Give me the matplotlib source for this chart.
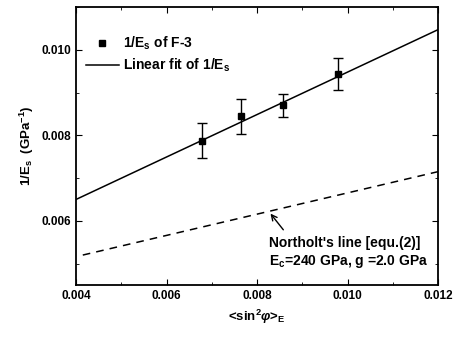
import numpy as np
import matplotlib.pyplot as plt
from matplotlib.lines import Line2D
from matplotlib.ticker import MultipleLocator, FormatStrFormatter

plt.rcParams['font.family'] = ['Liberation Sans', 'DejaVu Sans']
plt.rcParams['font.weight'] = 'bold'
plt.rcParams['mathtext.fontset'] = 'custom'
plt.rcParams['mathtext.rm'] = 'Liberation Sans:bold'
plt.rcParams['mathtext.bf'] = 'Liberation Sans:bold'
plt.rcParams['mathtext.it'] = 'Liberation Sans:bold:italic'

# Datos medidos 1/Es de F-3
sin2_x = [0.00678, 0.00765, 0.00857, 0.0098]
inv_es = [0.00787, 0.00844, 0.00870, 0.00943]
inv_es_err = [0.00041, 0.00042, 0.00027, 0.00037]

# Ajuste lineal (extremos)
fit_x = [0.004, 0.012]
fit_y = [0.00650, 0.01047]

# Linea de Northolt
north_x = [0.00415, 0.012]
north_y = [0.00520, 0.00715]

fig = plt.figure(figsize=(4.53, 3.38), dpi=100)
ax = fig.add_axes([76/453, 1-285/338, 362/453, 278/338])

ax.errorbar(sin2_x, inv_es, yerr=inv_es_err, fmt='s', color='black', ms=4,
            capsize=3.3, elinewidth=1, capthick=1)
h2, = ax.plot(fit_x, fit_y, '-', color='black', lw=1.1)
ax.plot(north_x, north_y, color='black', lw=1.1, dashes=(5, 4))

ax.annotate('', xy=(0.00826, 0.00622), xytext=(0.00862, 0.00574),
            arrowprops=dict(arrowstyle='->', color='black', lw=1))
ax.text(0.00827, 0.00548, "Northolt's line [equ.(2)]", fontsize=10, fontweight='bold', va='center')
ax.text(0.00827, 0.00506, r"E$_\mathregular{c}$=240 GPa, g =2.0 GPa", fontsize=10, fontweight='bold', va='center')

ax.set_xlim(0.004, 0.012)
ax.set_ylim(0.0045, 0.011)
ax.xaxis.set_major_locator(MultipleLocator(0.002))
ax.xaxis.set_minor_locator(MultipleLocator(0.001))
ax.yaxis.set_major_locator(MultipleLocator(0.002))
ax.yaxis.set_minor_locator(MultipleLocator(0.001))
ax.xaxis.set_major_formatter(FormatStrFormatter('%.3f'))
ax.yaxis.set_major_formatter(FormatStrFormatter('%.3f'))
ax.tick_params(which='both', direction='in', top=True, right=True, labelsize=8.5)
ax.tick_params(which='major', length=4)
ax.tick_params(which='minor', length=2.5)
for s in ax.spines.values():
    s.set_linewidth(1.3)

ax.set_xlabel(r'<sin$^\mathregular{2}$$\mathit{φ}$>$_\mathregular{E}$', fontsize=9.5, fontweight='bold')
ax.set_ylabel(r'1/E$_\mathregular{s}$  (GPa$^\mathregular{-1}$)', fontsize=9.5, fontweight='bold')

h1 = Line2D([], [], ls='none', marker='s', ms=4, color='black')
ax.legend([h1, h2], [r'1/E$_\mathregular{s}$ of F-3', r'Linear fit of 1/E$_\mathregular{s}$'],
          loc='upper left', bbox_to_anchor=(0.0, 0.935), frameon=False, fontsize=10,
          handlelength=2.4, handletextpad=0.3, labelspacing=0.35, borderaxespad=0.3)

plt.savefig('out.png', dpi=100)
